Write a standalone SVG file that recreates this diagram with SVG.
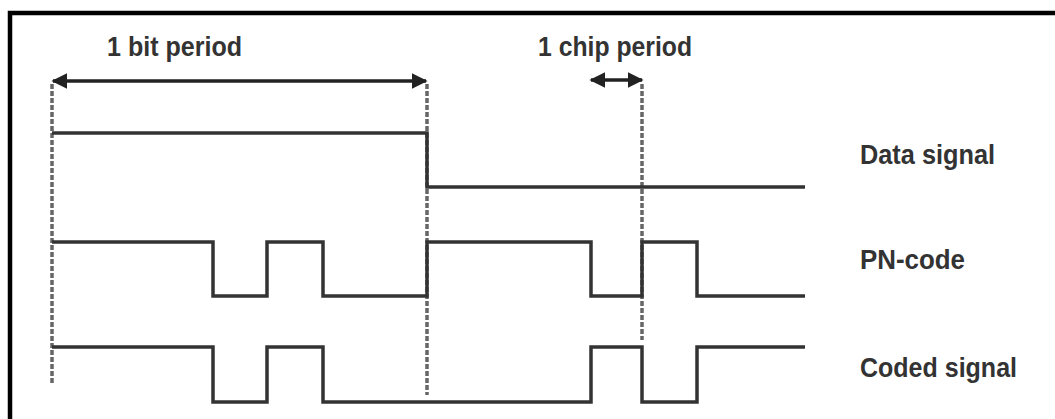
<svg xmlns="http://www.w3.org/2000/svg" width="1055" height="419" viewBox="0 0 1055 419">
<style>
.lbl{font-family:"Liberation Sans",Arial,sans-serif;font-weight:bold;font-size:27px;fill:#333}
.sig{fill:none;stroke:#333;stroke-width:3.5;stroke-linejoin:miter}
.dash{fill:none;stroke:#666;stroke-width:3.5;stroke-dasharray:5 2}
.dim{fill:none;stroke:#222;stroke-width:3.5}
</style>
<defs>
<marker id="ah" viewBox="0 0 10 10" refX="9" refY="5" markerWidth="4.5" markerHeight="4.5" orient="auto-start-reverse" markerUnits="strokeWidth">
<path d="M0,0 L10,5 L0,10 z" fill="#222"/>
</marker>
</defs>
<rect width="1055" height="419" fill="#fff"/>
<g id="frame">
<path d="M10,419 V13 H1055" fill="none" stroke="#000" stroke-width="4.5"/>
</g>
<g id="connectors">
<line class="dash" x1="52" y1="84" x2="52" y2="383"/>
<line class="dash" x1="427" y1="84" x2="427" y2="395"/>
<line class="dash" x1="642" y1="84" x2="642" y2="340"/>
<line class="dim" x1="53" y1="81" x2="426" y2="81" marker-start="url(#ah)" marker-end="url(#ah)"/>
<line class="dim" x1="591" y1="80" x2="642" y2="80" marker-start="url(#ah)" marker-end="url(#ah)"/>
</g>
<g id="data-signal">
<path class="sig" d="M52,133 H427 V187 H805"/>
</g>
<g id="pn-code">
<path class="sig" d="M52,242 H213 V296 H267 V242 H323 V296 H427 V242 H591 V296 H642 V242 H697 V296 H805"/>
</g>
<g id="coded-signal">
<path class="sig" d="M52,347 H213 V402 H267 V347 H323 V402 H591 V347 H642 V402 H697 V347 H805"/>
</g>
<g id="labels">
<text class="lbl" x="107" y="56" textLength="135" lengthAdjust="spacingAndGlyphs">1 bit period</text>
<text class="lbl" x="538" y="56" textLength="154" lengthAdjust="spacingAndGlyphs">1 chip period</text>
<text class="lbl" x="860" y="164" textLength="135" lengthAdjust="spacingAndGlyphs">Data signal</text>
<text class="lbl" x="860" y="269" textLength="105" lengthAdjust="spacingAndGlyphs">PN-code</text>
<text class="lbl" x="860" y="377" textLength="157" lengthAdjust="spacingAndGlyphs">Coded signal</text>
</g>
</svg>
